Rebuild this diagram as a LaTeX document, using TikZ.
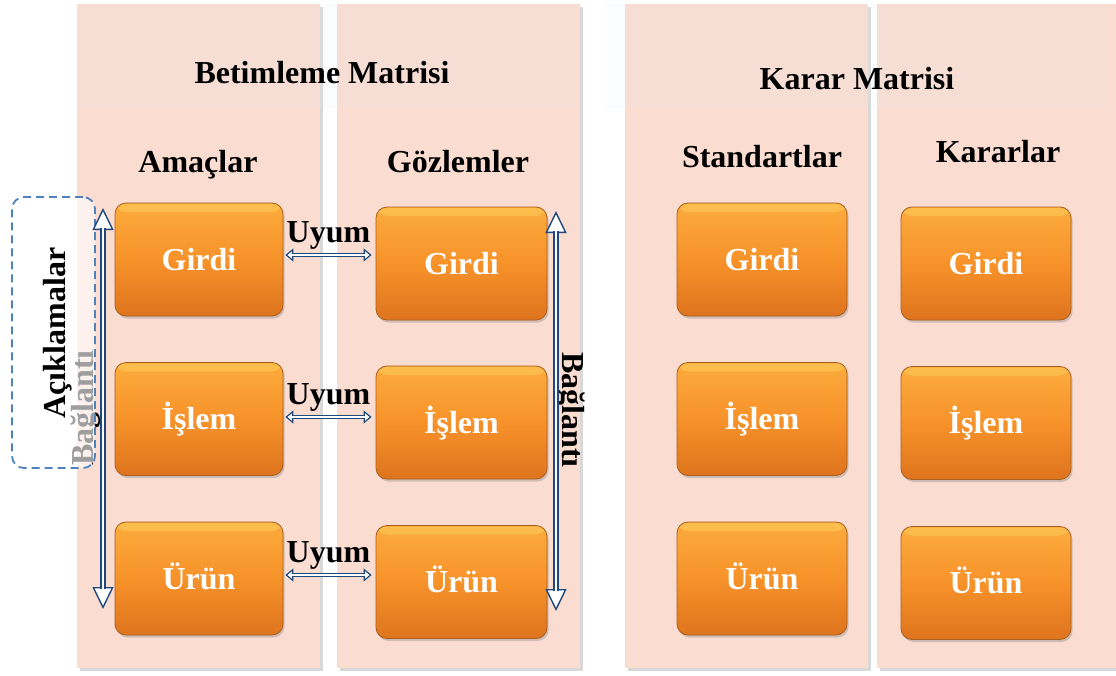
\documentclass[tikz,border=0pt]{standalone}
\usepackage{fontspec}
\setmainfont{Liberation Serif}
\usetikzlibrary{arrows.meta,shadows,calc}
\definecolor{colpink}{RGB}{250,220,209}
\definecolor{bandcol}{RGB}{232,236,242}
\definecolor{arrowblue}{RGB}{31,73,125}
\definecolor{dashblue}{RGB}{79,129,189}
\definecolor{orTop}{RGB}{252,172,62}
\definecolor{orMid}{RGB}{247,146,42}
\definecolor{orBot}{RGB}{222,116,30}
\definecolor{orEdge}{RGB}{170,95,30}
\definecolor{orHi}{RGB}{253,205,90}
\begin{document}
\begin{tikzpicture}[x=1pt,y=-1pt,
  colbg/.style={fill=colpink, draw=none, drop shadow={shadow xshift=2.5pt, shadow yshift=-2.5pt, opacity=0.3}},
  band/.style={fill=bandcol, fill opacity=0.14, draw=none},
  bigfont/.style={font=\fontsize{32}{38}\selectfont\bfseries},
  hdr/.style={bigfont, text=black, anchor=base, inner sep=0pt},
  stepbox/.style={bigfont, rounded corners=11pt, minimum width=168pt, minimum height=113pt,
    top color=orTop, bottom color=orBot, middle color=orMid, draw=orEdge, line width=0.8pt,
    text=white, text height=21pt, text depth=0pt,
    path picture={\fill[orHi, opacity=0.55] ([yshift=-1pt]path picture bounding box.north west) rectangle ([yshift=-9pt]path picture bounding box.north east);},
    drop shadow={shadow xshift=1.5pt, shadow yshift=-2.5pt, opacity=0.35}},
  rottext/.style={bigfont, text=black, inner sep=0pt},
  dashbox/.style={draw=dashblue, line width=1.8pt, dash pattern=on 8pt off 5pt, rounded corners=12pt,
    fill=white, fill opacity=0.62, minimum width=83pt, minimum height=271pt, inner sep=0pt},
  dblshaft/.style={draw=arrowblue, line width=1.4pt, double=white, double distance=2pt},
  bigshaft/.style={draw=arrowblue, line width=1.5pt, double=white, double distance=2.5pt},
  smalltips/.style={draw=arrowblue, line width=1.2pt,
    {Triangle[fill=white, length=8pt, width=13pt]}-{Triangle[fill=white, length=8pt, width=13pt]}},
  bigtips/.style={draw=arrowblue, line width=1.4pt,
    {Triangle[fill=white, length=22pt, width=21pt]}-{Triangle[fill=white, length=22pt, width=21pt]}},
  uyum/.style={bigfont, text=black, inner sep=0pt}
]
\useasboundingbox (0,0) rectangle (1116,675);
\fill[white] (0,0) rectangle (1116,675);

% columns
\path[colbg] (77,4) rectangle (320,668);
\path[colbg] (337,4) rectangle (580,668);
\path[colbg] (625,4) rectangle (868,668);
\path[colbg] (877,4) rectangle (1116,668);
% header bands
\fill[band] (77,4) rectangle (575,108);
\fill[band] (607,4) rectangle (1107,108);

% titles
\node[hdr] (t1) at (322,83) {Betimleme Matrisi};
\node[hdr] (t2) at (857,89) {Karar Matrisi};
\node[hdr] (h1) at (198,172) {Amaçlar};
\node[hdr] (h2) at (458,172) {Gözlemler};
\node[hdr] (h3) at (762,167) {Standartlar};
\node[hdr] (h4) at (998,162) {Kararlar};

% boxes
\node[stepbox] (a1) at (199,259.5) {Girdi};
\node[stepbox] (a2) at (199,419) {İşlem};
\node[stepbox] (a3) at (199,578.5) {Ürün};
\node[stepbox, minimum width=171pt] (b1) at (461.5,263.5) {Girdi};
\node[stepbox, minimum width=171pt] (b2) at (461.5,422.5) {İşlem};
\node[stepbox, minimum width=171pt] (b3) at (461.5,582) {Ürün};
\node[stepbox, minimum width=170pt] (c1) at (762,259.5) {Girdi};
\node[stepbox, minimum width=170pt] (c2) at (762,419) {İşlem};
\node[stepbox, minimum width=170pt] (c3) at (762,578.5) {Ürün};
\node[stepbox, minimum width=170pt] (d1) at (986,263.5) {Girdi};
\node[stepbox, minimum width=170pt] (d2) at (986,423) {İşlem};
\node[stepbox, minimum width=170pt] (d3) at (986,583) {Ürün};

% left Baglanti label (partly covered by the note box)
\node[rottext, rotate=90] (bl) at (86,408) {Bağlantı};
% note box
\node[dashbox] (ackbox) at (53.5,332.5) {};
\node[rottext, rotate=90] (ack) at (58,333) {Açıklamalar};
% right Baglanti label
\node[rottext, rotate=-90] (br) at (570,410) {Bağlantı};

% vertical arrows
\coordinate (lt) at (103,208);
\coordinate (lb) at (103,609);
\coordinate (rt) at (556,211);
\coordinate (rb) at (556,611);
\draw[bigtips] (lt) -- (lb);
\draw[bigshaft, shorten <=20pt, shorten >=20pt] (lt) -- (lb);
\draw[bigtips] (rt) -- (rb);
\draw[bigshaft, shorten <=20pt, shorten >=20pt] (rt) -- (rb);

% Uyum arrows
\coordinate (u1s) at ([shift={(2,-4.5)}]a1.east);
\coordinate (u1e) at ([xshift=-4pt]u1s -| b1.west);
\coordinate (u2s) at ([shift={(2,-2)}]a2.east);
\coordinate (u2e) at ([xshift=-4pt]u2s -| b2.west);
\coordinate (u3s) at ([shift={(2,-3.5)}]a3.east);
\coordinate (u3e) at ([xshift=-4pt]u3s -| b3.west);
\foreach \i in {1,2,3}{
  \draw[smalltips] (u\i s) -- (u\i e);
  \draw[dblshaft, shorten <=7pt, shorten >=7pt] (u\i s) -- (u\i e);
}
\path (u1s) -- (u1e) node[uyum, midway, above=5pt] (l1) {Uyum};
\path (u2s) -- (u2e) node[uyum, midway, above=5pt] (l2) {Uyum};
\path (u3s) -- (u3e) node[uyum, midway, above=5pt] (l3) {Uyum};
\end{tikzpicture}
\end{document}
